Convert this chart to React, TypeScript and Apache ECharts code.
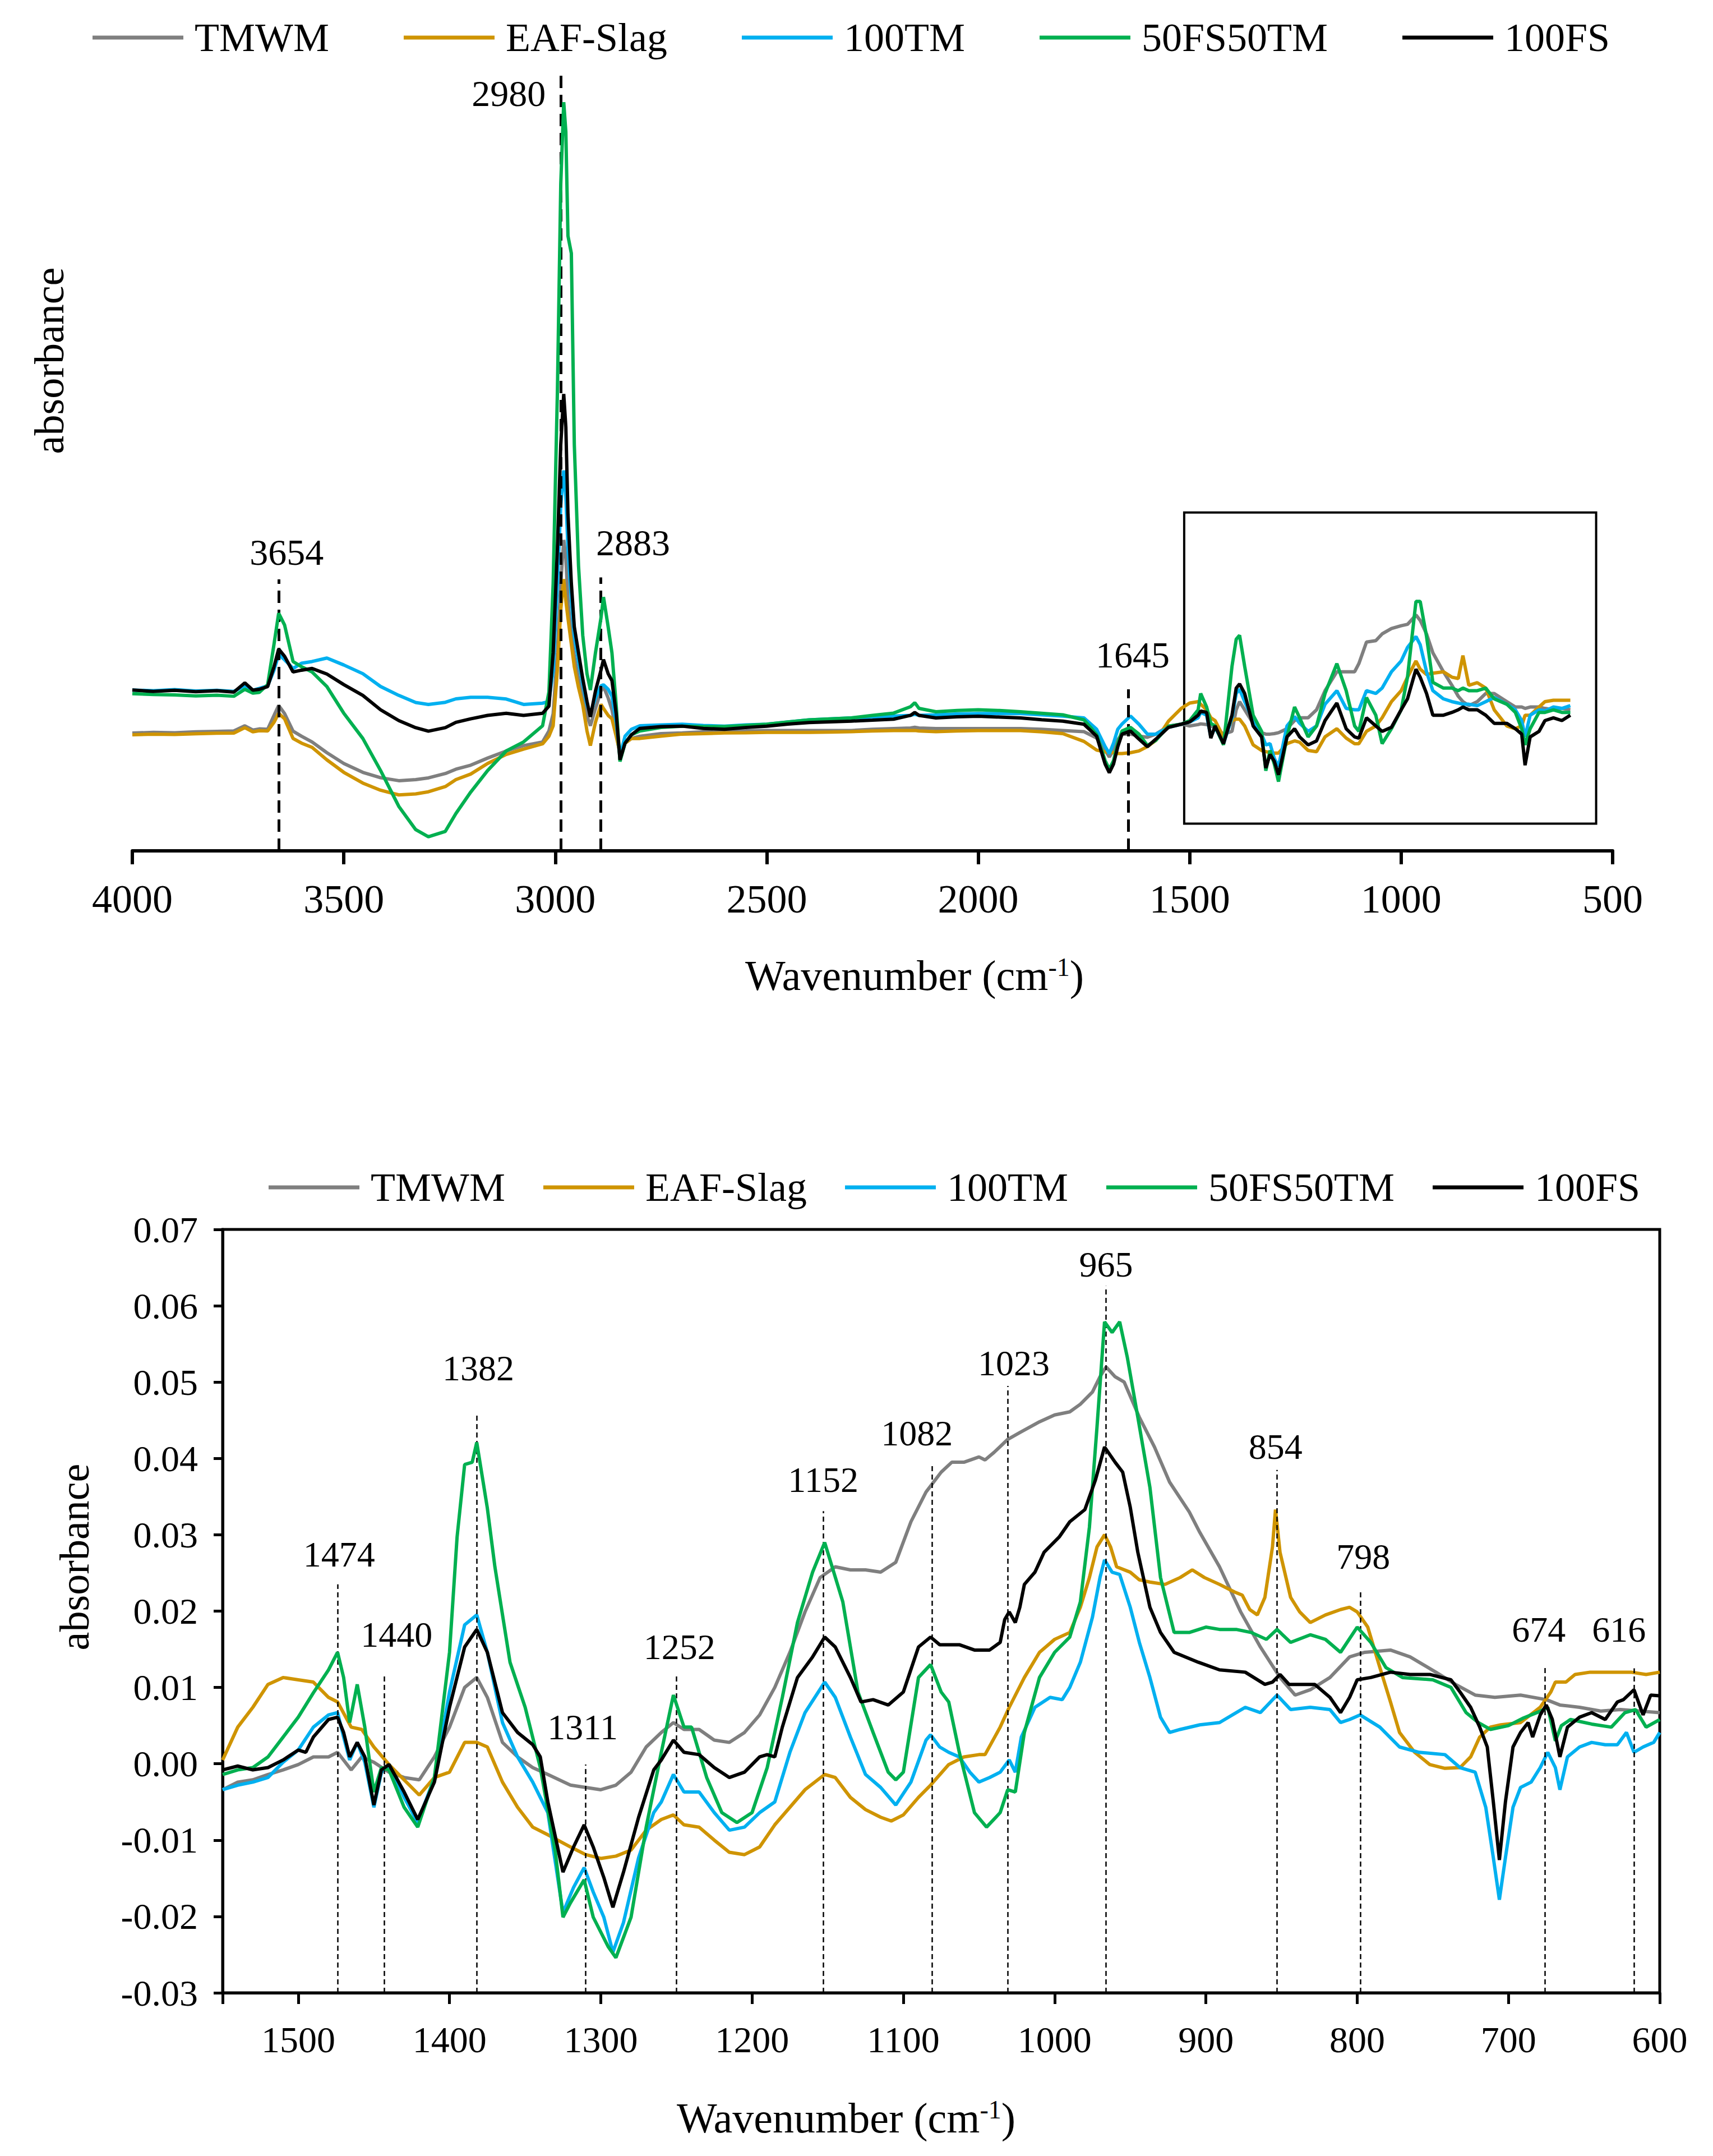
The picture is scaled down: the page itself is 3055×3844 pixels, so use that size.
import React, { useEffect, useRef } from 'react';
import * as echarts from 'echarts';

const FONT = 'Liberation Serif';

const seriesNames = ['TMWM', 'EAF-Slag', '100TM', '50FS50TM', '100FS'];
const seriesColors = ['#7F7F7F', '#CF9400', '#00B0F0', '#00B050', '#000000'];

// ---- full spectrum (upper panel), wavenumber grid shared by all samples ----
const topWn = [
  4000, 3950, 3900, 3850, 3800, 3760, 3734, 3715, 3700, 3680,
  3665, 3654, 3640, 3620, 3600, 3575, 3540, 3500, 3455, 3413,
  3370, 3330, 3300, 3260, 3235, 3200, 3160, 3116, 3075, 3030,
  3015, 3005, 2995, 2987, 2980, 2975, 2970, 2962, 2955, 2945,
  2935, 2925, 2917, 2905, 2892, 2886, 2875, 2866, 2856, 2847,
  2835, 2820, 2800, 2750, 2700, 2650, 2600, 2550, 2500, 2450,
  2400, 2350, 2300, 2250, 2200, 2160, 2150, 2140, 2100, 2050,
  2000, 1950, 1900, 1850, 1800, 1750, 1720, 1700, 1690, 1680,
  1670, 1660, 1640, 1620, 1600, 1580, 1550, 1520, 1500, 1480,
  1474, 1460, 1450, 1440, 1420, 1400, 1390, 1382, 1370, 1350,
  1330, 1320, 1310, 1300, 1290, 1270, 1252, 1240, 1220, 1200,
  1180, 1152, 1130, 1110, 1100, 1082, 1060, 1045, 1023, 1000,
  985, 965, 955, 940, 925, 900, 880, 865, 854, 840,
  820, 800, 780, 750, 730, 715, 707, 695, 674, 660,
  640, 620, 600,
];

const topTMWM = [
  -0.0162, -0.0158, -0.016, -0.0155, -0.0152, -0.015, -0.012, -0.0145, -0.0138, -0.014,
  -0.006, -0.0003, -0.005, -0.0151, -0.018, -0.0213, -0.0275, -0.0337, -0.0388, -0.0419,
  -0.0436, -0.043, -0.042, -0.0395, -0.037, -0.0347, -0.0306, -0.0265, -0.0234, -0.0213,
  -0.015, -0.005, 0.03, 0.07, 0.095, 0.085, 0.06, 0.04, 0.028, 0.015,
  0.005, -0.006, -0.012, -0.002, 0.008, 0.0106, 0.004, -0.0028, -0.015, -0.0295,
  -0.022, -0.0193, -0.018, -0.0165, -0.0161, -0.0155, -0.015, -0.0149, -0.0147, -0.0147,
  -0.0147, -0.0147, -0.0147, -0.014, -0.0136, -0.0133, -0.0129, -0.0133, -0.0136, -0.0136,
  -0.0136, -0.0136, -0.0136, -0.014, -0.0147, -0.0154, -0.019, -0.026, -0.03, -0.026,
  -0.02, -0.0168, -0.0168, -0.0179, -0.0186, -0.0168, -0.0122, -0.011, -0.0121, -0.0113,
  -0.0109, -0.0113, -0.0121, -0.0129, -0.0168, -0.0152, -0.0028, 0.0019, -0.0028, -0.0106,
  -0.016, -0.0168, -0.0168, -0.0165, -0.016, -0.0137, -0.009, -0.0074, -0.0074, -0.0028,
  0.0082, 0.0191, 0.0191, 0.0191, 0.0238, 0.0362, 0.037, 0.0409, 0.044, 0.0456,
  0.0464, 0.0518, 0.0487, 0.0409, 0.03, 0.0191, 0.0113, 0.005, 0.0019, -0.0004,
  0.0019, 0.0066, 0.0066, 0.0019, -0.0012, -0.0012, -0.002, -0.0012, -0.0012, -0.002,
  -0.0028, -0.002, -0.0028,
];

const topEAF = [
  -0.0172, -0.0168, -0.017, -0.0166, -0.0163, -0.0162, -0.0131, -0.0155, -0.0148, -0.015,
  -0.01, -0.0048, -0.008, -0.0193, -0.022, -0.0244, -0.0316, -0.0388, -0.045, -0.0491,
  -0.0518, -0.0512, -0.05, -0.047, -0.043, -0.0398, -0.0337, -0.0285, -0.0254, -0.0224,
  -0.018, -0.012, 0.02, 0.055, 0.0724, 0.06, 0.05, 0.035, 0.022, 0.01,
  0, -0.015, -0.0234, -0.01, 0.0003, -0.002, -0.006, -0.008, -0.018, -0.0275,
  -0.022, -0.0193, -0.0193, -0.018, -0.0168, -0.0165, -0.0161, -0.016, -0.0158, -0.0158,
  -0.0158, -0.0156, -0.0154, -0.015, -0.0147, -0.0147, -0.0147, -0.015, -0.0154, -0.015,
  -0.0147, -0.0147, -0.0147, -0.0155, -0.0165, -0.021, -0.026, -0.027, -0.027, -0.0275,
  -0.028, -0.028, -0.0275, -0.0265, -0.024, -0.0204, -0.0093, -0.002, 0.0011, 0.0019,
  0.0004, -0.0028, -0.0074, -0.009, -0.0184, -0.009, -0.0082, -0.0082, -0.0121, -0.023,
  -0.0262, -0.0269, -0.0274, -0.0277, -0.0277, -0.0223, -0.0207, -0.0215, -0.0262, -0.0269,
  -0.0184, -0.0137, -0.0191, -0.0223, -0.0223, -0.0152, -0.0121, -0.0074, 0.0019, 0.0082,
  0.016, 0.0253, 0.0206, 0.0175, 0.0183, 0.0191, 0.016, 0.0152, 0.0284, 0.0113,
  0.0128, 0.0097, -0.0028, -0.0121, -0.0137, -0.0121, -0.0059, -0.0059, -0.0012, 0.0019,
  0.0027, 0.0027, 0.0027,
];

const top100TM = [
  0.0086, 0.0082, 0.0088, 0.008, 0.0084, 0.0078, 0.011, 0.0085, 0.0095, 0.011,
  0.02, 0.029, 0.026, 0.021, 0.024, 0.025, 0.027, 0.023, 0.018, 0.0106,
  0.0055, 0.0014, 0.0003, 0.0015, 0.0035, 0.0044, 0.0044, 0.0034, 0.0003, 0.001,
  0.002, 0.02, 0.07, 0.115, 0.135, 0.12, 0.09, 0.06, 0.04, 0.025,
  0.012, 0, -0.0048, 0.004, 0.011, 0.0116, 0.009, 0.005, -0.01, -0.0295,
  -0.018, -0.014, -0.012, -0.0115, -0.0111, -0.0118, -0.0122, -0.0115, -0.0111, -0.0098,
  -0.0086, -0.008, -0.0075, -0.007, -0.0064, -0.006, -0.0054, -0.006, -0.0057, -0.0052,
  -0.005, -0.005, -0.005, -0.0057, -0.0064, -0.0075, -0.014, -0.024, -0.028, -0.022,
  -0.014, -0.011, -0.0064, -0.0111, -0.0168, -0.0168, -0.0129, -0.0111, -0.0098, -0.0074,
  -0.0043, -0.0059, -0.0184, -0.0129, -0.0223, -0.0074, 0.0066, 0.009, 0.0019, -0.009,
  -0.0168, -0.023, -0.0223, -0.0308, -0.0355, -0.0121, -0.0067, -0.0106, -0.0152, -0.0121,
  0.0004, 0.0082, -0.002, -0.0028, -0.0028, 0.0082, 0.0066, 0.0097, 0.0191, 0.0253,
  0.0331, 0.0394, 0.0347, 0.0191, 0.0082, 0.0035, 0.0019, 0.0011, 0.0004, 0.0004,
  -0.0004, 0.0019, 0.0043, 0.0004, -0.0028, -0.009, -0.0184, -0.0059, -0.0028, -0.0035,
  -0.0012, -0.002, -0.0004,
];

const top50FS = [
  0.0065, 0.006, 0.0058, 0.0052, 0.0056, 0.005, 0.009, 0.0068, 0.0072, 0.0117,
  0.035, 0.0528, 0.046, 0.025, 0.022, 0.019, 0.0106, -0.0048, -0.0193, -0.0378,
  -0.0584, -0.0718, -0.0759, -0.0728, -0.0625, -0.0502, -0.0378, -0.0265, -0.0213, -0.012,
  0.0075, 0.07, 0.18, 0.3, 0.347, 0.33, 0.27, 0.26, 0.15, 0.08,
  0.04, 0.018, 0.0086, 0.03, 0.05, 0.0621, 0.045, 0.03, 0, -0.0326,
  -0.022, -0.0172, -0.015, -0.013, -0.0122, -0.0125, -0.0125, -0.0118, -0.0111, -0.0098,
  -0.0086, -0.008, -0.0075, -0.006, -0.0047, -0.001, 0.0013, -0.002, -0.0039, -0.0032,
  -0.0028, -0.0032, -0.0039, -0.0048, -0.0057, -0.0086, -0.017, -0.032, -0.037, -0.032,
  -0.022, -0.015, -0.0129, -0.0168, -0.0233, -0.0204, -0.0122, -0.0111, -0.009, -0.0028,
  0.0066, -0.0012, -0.0106, -0.0121, -0.023, 0.0222, 0.0378, 0.0401, 0.0222, -0.0059,
  -0.0152, -0.0379, -0.0262, -0.034, -0.0441, -0.0184, -0.0012, -0.0074, -0.0184, -0.0121,
  0.0066, 0.0238, 0.0082, -0.0121, -0.0152, 0.0043, -0.0059, -0.0223, -0.0137, -0.0028,
  0.016, 0.0596, 0.0596, 0.0394, 0.013, 0.0097, 0.0097, 0.0082, 0.0097, 0.0082,
  0.0082, 0.0097, 0.0035, 0.0004, -0.0043, -0.0137, -0.023, -0.0137, -0.0043, -0.0043,
  -0.0028, -0.0043, -0.0043,
];

const top100FS = [
  0.0086, 0.0078, 0.0084, 0.0076, 0.0082, 0.0074, 0.0127, 0.0085, 0.009, 0.0106,
  0.022, 0.0322, 0.028, 0.019, 0.02, 0.021, 0.0178, 0.0117, 0.0055, -0.0028,
  -0.009, -0.0131, -0.0151, -0.0131, -0.01, -0.008, -0.006, -0.0048, -0.006, -0.0048,
  -0.0007, 0.03, 0.09, 0.15, 0.179, 0.16, 0.11, 0.07, 0.045, 0.03,
  0.015, 0.002, -0.0069, 0.008, 0.02, 0.0261, 0.018, 0.014, -0.005, -0.0316,
  -0.022, -0.0172, -0.0135, -0.0125, -0.0122, -0.0135, -0.014, -0.013, -0.0122, -0.011,
  -0.0101, -0.0097, -0.0093, -0.0088, -0.0082, -0.006, -0.0043, -0.006, -0.0075, -0.0068,
  -0.0065, -0.007, -0.0075, -0.0085, -0.0093, -0.0111, -0.018, -0.034, -0.039, -0.034,
  -0.024, -0.0168, -0.015, -0.0197, -0.024, -0.0197, -0.0129, -0.0111, -0.0098, -0.0059,
  -0.0035, -0.0043, -0.0191, -0.0121, -0.0223, -0.0059, 0.0097, 0.0121, 0.0066, -0.0121,
  -0.0184, -0.0363, -0.0285, -0.0324, -0.0402, -0.0184, -0.0137, -0.0184, -0.023, -0.0207,
  -0.009, 0.0011, -0.0137, -0.0184, -0.0191, -0.0074, -0.0121, -0.0152, -0.0129, -0.0028,
  0.0035, 0.0206, 0.016, 0.0066, -0.0059, -0.0059, -0.0043, -0.0028, -0.0012, -0.0028,
  -0.0028, -0.0059, -0.0106, -0.0106, -0.0137, -0.0168, -0.0347, -0.0184, -0.0152, -0.009,
  -0.0074, -0.009, -0.0059,
];

// ---- fingerprint region (lower panel), [wavenumber, absorbance] ----
const fpTMWM = [
  [1550, -0.0034], [1540, -0.0024], [1530, -0.0021], [1520, -0.0014], [1510, -0.0008], [1500, -0.0001],
  [1490, 0.0009], [1480, 0.0009], [1474, 0.0015], [1465, -0.0008], [1458, 0.0009], [1450, 0.0002],
  [1440, -0.0011], [1430, -0.0018], [1420, -0.0021], [1410, 0.0009], [1400, 0.0048], [1390, 0.01],
  [1382, 0.0113], [1375, 0.0087], [1365, 0.0028], [1355, 0.0009], [1345, -0.0005], [1335, -0.0014],
  [1320, -0.0028], [1300, -0.0034], [1290, -0.0028], [1280, -0.0011], [1270, 0.0022], [1260, 0.0041],
  [1252, 0.0054], [1245, 0.0045], [1235, 0.0045], [1225, 0.0031], [1215, 0.0028], [1205, 0.0041],
  [1195, 0.0064], [1185, 0.01], [1175, 0.0146], [1165, 0.0199], [1155, 0.0244], [1145, 0.0258],
  [1135, 0.0254], [1125, 0.0254], [1115, 0.0251], [1105, 0.0264], [1095, 0.0317], [1085, 0.0356],
  [1075, 0.0382], [1068, 0.0395], [1060, 0.0395], [1050, 0.0402], [1046, 0.0398], [1040, 0.0408],
  [1031, 0.0425], [1023, 0.0434], [1010, 0.0448], [1000, 0.0457], [990, 0.0461], [983, 0.0471],
  [975, 0.0487], [970, 0.0507], [966, 0.052], [960, 0.0507], [954, 0.05], [944, 0.0454],
  [934, 0.0415], [924, 0.0369], [911, 0.033], [904, 0.0303], [891, 0.0258], [877, 0.0199],
  [864, 0.0153], [851, 0.0113], [841, 0.009], [831, 0.0097], [818, 0.0113], [805, 0.014],
  [795, 0.0146], [778, 0.0149], [765, 0.014], [748, 0.012], [735, 0.0104], [722, 0.009],
  [709, 0.0087], [692, 0.009], [675, 0.0084], [666, 0.0077], [653, 0.0074], [639, 0.0069],
  [626, 0.0071], [613, 0.0069], [600, 0.0067],
];

const fpEAF = [
  [1550, 0.0005], [1540, 0.0048], [1530, 0.0074], [1520, 0.0104], [1510, 0.0113], [1500, 0.011],
  [1490, 0.0107], [1480, 0.0087], [1474, 0.0081], [1465, 0.0048], [1458, 0.0045], [1450, 0.0022],
  [1440, -0.0001], [1430, -0.0021], [1420, -0.0041], [1410, -0.0018], [1400, -0.0011], [1390, 0.0028],
  [1382, 0.0028], [1375, 0.0022], [1365, -0.0024], [1355, -0.0057], [1345, -0.0083], [1335, -0.0093],
  [1320, -0.0109], [1310, -0.0119], [1300, -0.0124], [1290, -0.0121], [1280, -0.0113], [1270, -0.0087],
  [1260, -0.0073], [1252, -0.0067], [1245, -0.008], [1235, -0.0083], [1225, -0.01], [1215, -0.0116],
  [1205, -0.0119], [1195, -0.0109], [1185, -0.008], [1175, -0.0057], [1165, -0.0034], [1152, -0.0014],
  [1145, -0.0018], [1135, -0.0044], [1125, -0.006], [1115, -0.007], [1108, -0.0075], [1100, -0.0067],
  [1090, -0.0044], [1082, -0.0028], [1070, -0.0001], [1060, 0.0009], [1050, 0.0012], [1046, 0.0012],
  [1036, 0.0048], [1030, 0.0074], [1020, 0.0113], [1010, 0.0146], [1000, 0.0163], [990, 0.0172],
  [983, 0.0205], [977, 0.0244], [972, 0.0284], [967, 0.03], [963, 0.0284], [959, 0.0258],
  [950, 0.0251], [944, 0.0241], [937, 0.0238], [927, 0.0235], [917, 0.0244], [909, 0.0254],
  [901, 0.0244], [891, 0.0235], [881, 0.0225], [876, 0.0221], [871, 0.0202], [866, 0.0195],
  [861, 0.0218], [856, 0.0284], [854, 0.0333], [851, 0.0277], [844, 0.0218], [838, 0.0199],
  [831, 0.0185], [821, 0.0195], [811, 0.0202], [805, 0.0205], [800, 0.0199], [793, 0.0179],
  [785, 0.0126], [778, 0.0081], [772, 0.0041], [762, 0.0015], [752, -0.0001], [742, -0.0006],
  [732, -0.0005], [725, 0.0009], [719, 0.0035], [712, 0.0048], [705, 0.0051], [692, 0.0054],
  [679, 0.0074], [672, 0.0094], [669, 0.0107], [662, 0.0107], [656, 0.0117], [646, 0.012],
  [632, 0.012], [619, 0.012], [609, 0.0117], [600, 0.012],
];

const fp100TM = [
  [1550, -0.0034], [1540, -0.0028], [1530, -0.0024], [1520, -0.0018], [1510, 0.0002], [1500, 0.0018],
  [1490, 0.0048], [1480, 0.0064], [1474, 0.0067], [1470, 0.0035], [1466, 0.0005], [1461, 0.0028],
  [1456, 0.0002], [1450, -0.0057], [1445, -0.0011], [1440, -0.0001], [1430, -0.0044], [1421, -0.0077],
  [1410, -0.0018], [1400, 0.0094], [1390, 0.0182], [1382, 0.0195], [1375, 0.0146], [1365, 0.0054],
  [1355, 0.0009], [1345, -0.0024], [1335, -0.0064], [1325, -0.0195], [1318, -0.0162], [1311, -0.0136],
  [1305, -0.0168], [1298, -0.0201], [1292, -0.0247], [1285, -0.0208], [1275, -0.0123], [1265, -0.0064],
  [1260, -0.005], [1252, -0.0014], [1245, -0.0037], [1235, -0.0037], [1225, -0.0064], [1215, -0.0087],
  [1205, -0.0083], [1195, -0.0064], [1185, -0.005], [1175, 0.0015], [1165, 0.0067], [1152, 0.0107],
  [1145, 0.0087], [1135, 0.0035], [1125, -0.0014], [1115, -0.0031], [1105, -0.0054], [1095, -0.0024],
  [1085, 0.0031], [1082, 0.0038], [1076, 0.0022], [1070, 0.0015], [1063, 0.0009], [1056, -0.0011],
  [1050, -0.0024], [1043, -0.0018], [1036, -0.0011], [1030, 0.0005], [1026, -0.0011], [1022, 0.0035],
  [1013, 0.0074], [1003, 0.0087], [995, 0.0084], [990, 0.01], [983, 0.0133], [975, 0.0192],
  [970, 0.0244], [967, 0.0267], [962, 0.0251], [957, 0.0248], [950, 0.0205], [944, 0.0159],
  [937, 0.0113], [930, 0.0061], [924, 0.0041], [917, 0.0045], [904, 0.0051], [891, 0.0054],
  [874, 0.0074], [864, 0.0067], [853, 0.009], [844, 0.0071], [831, 0.0074], [818, 0.0071],
  [811, 0.0054], [805, 0.0058], [798, 0.0064], [785, 0.0048], [772, 0.0022], [759, 0.0015],
  [742, 0.0012], [732, -0.0005], [722, -0.0011], [715, -0.0057], [710, -0.0123], [706, -0.0178],
  [702, -0.0123], [697, -0.0057], [692, -0.0031], [685, -0.0024], [679, -0.0005], [674, 0.0015],
  [669, -0.0005], [666, -0.0034], [661, 0.0009], [653, 0.0022], [645, 0.0028], [636, 0.0025],
  [628, 0.0025], [622, 0.0041], [617, 0.0015], [611, 0.0022], [604, 0.0028], [600, 0.0041],
];

const fp50FS = [
  [1550, -0.0014], [1540, -0.0008], [1530, -0.0005], [1520, 0.0009], [1510, 0.0035], [1500, 0.0061],
  [1490, 0.0093], [1480, 0.0123], [1474, 0.0146], [1470, 0.0113], [1466, 0.0054], [1461, 0.0104],
  [1456, 0.0048], [1450, -0.0037], [1445, -0.0005], [1440, -0.0008], [1430, -0.0057], [1421, -0.0083],
  [1410, -0.0018], [1400, 0.0146], [1395, 0.0297], [1390, 0.0392], [1385, 0.0395], [1382, 0.0421],
  [1375, 0.0335], [1370, 0.0258], [1360, 0.0133], [1350, 0.0074], [1340, -0.0005], [1330, -0.0116],
  [1325, -0.0201], [1320, -0.0182], [1311, -0.0152], [1305, -0.0201], [1295, -0.024], [1290, -0.0254],
  [1280, -0.0201], [1270, -0.0083], [1260, 0.0015], [1252, 0.009], [1245, 0.0048], [1240, 0.0048],
  [1230, -0.0018], [1220, -0.0064], [1210, -0.0077], [1200, -0.0064], [1190, -0.0005], [1180, 0.0087],
  [1170, 0.0185], [1160, 0.0251], [1152, 0.029], [1140, 0.0212], [1130, 0.0094], [1120, 0.0041],
  [1110, -0.0011], [1105, -0.0021], [1100, -0.0011], [1090, 0.0113], [1082, 0.013], [1075, 0.0094],
  [1070, 0.0081], [1063, 0.0015], [1053, -0.0064], [1045, -0.0083], [1036, -0.0064], [1031, -0.0034],
  [1026, -0.0037], [1020, 0.0041], [1010, 0.0113], [1000, 0.0146], [990, 0.0166], [983, 0.0212],
  [977, 0.031], [972, 0.0441], [967, 0.0579], [962, 0.0565], [957, 0.0579], [952, 0.0533],
  [945, 0.0454], [937, 0.0362], [930, 0.0244], [921, 0.0172], [911, 0.0172], [900, 0.0179],
  [891, 0.0176], [880, 0.0176], [870, 0.0172], [860, 0.0163], [853, 0.0176], [844, 0.0159],
  [831, 0.0169], [821, 0.0163], [811, 0.0146], [800, 0.0179], [791, 0.0159], [781, 0.0126],
  [770, 0.0113], [750, 0.011], [738, 0.01], [728, 0.0067], [720, 0.0054], [712, 0.0045],
  [700, 0.005], [690, 0.006], [680, 0.0068], [674, 0.0074], [669, 0.003], [665, 0.005],
  [659, 0.0058], [645, 0.0052], [632, 0.0048], [623, 0.0067], [616, 0.0071], [609, 0.0048],
  [600, 0.0058],
];

const fp100FS = [
  [1550, -0.0008], [1540, -0.0003], [1530, -0.0008], [1520, -0.0005], [1510, 0.0005], [1500, 0.0018],
  [1495, 0.0015], [1490, 0.0035], [1480, 0.0058], [1474, 0.0061], [1470, 0.0041], [1466, 0.0009],
  [1461, 0.0028], [1456, 0.0009], [1450, -0.0054], [1445, -0.0008], [1440, -0.0001], [1430, -0.0037],
  [1421, -0.0073], [1410, -0.0024], [1400, 0.0074], [1390, 0.0153], [1382, 0.0176], [1375, 0.0146],
  [1365, 0.0067], [1355, 0.0041], [1345, 0.0025], [1340, 0.0009], [1335, -0.005], [1325, -0.0142],
  [1318, -0.0109], [1311, -0.008], [1305, -0.0109], [1298, -0.0149], [1292, -0.0188], [1285, -0.0142],
  [1275, -0.007], [1265, -0.0008], [1260, 0.0005], [1252, 0.0031], [1245, 0.0015], [1235, 0.0012],
  [1225, -0.0005], [1215, -0.0018], [1205, -0.0011], [1195, 0.0009], [1190, 0.0012], [1185, 0.0009],
  [1180, 0.0048], [1170, 0.0113], [1160, 0.014], [1152, 0.0166], [1145, 0.0153], [1135, 0.0113],
  [1128, 0.0081], [1120, 0.0084], [1110, 0.0077], [1100, 0.0094], [1090, 0.0153], [1082, 0.0166],
  [1076, 0.0156], [1063, 0.0156], [1053, 0.0149], [1043, 0.0149], [1036, 0.0159], [1033, 0.0189],
  [1030, 0.0199], [1026, 0.0185], [1023, 0.0205], [1020, 0.0235], [1013, 0.0251], [1007, 0.0277],
  [997, 0.0297], [990, 0.0317], [980, 0.0333], [973, 0.0372], [967, 0.0415], [960, 0.0395],
  [955, 0.0382], [950, 0.0336], [945, 0.0277], [937, 0.0205], [930, 0.0172], [921, 0.0146],
  [905, 0.0133], [891, 0.0123], [874, 0.012], [861, 0.0104], [856, 0.0107], [851, 0.0117],
  [845, 0.0104], [828, 0.0104], [818, 0.0087], [811, 0.0067], [805, 0.0087], [800, 0.011],
  [791, 0.0113], [778, 0.012], [765, 0.0117], [752, 0.0117], [738, 0.011], [732, 0.0094],
  [725, 0.0074], [719, 0.0048], [714, 0.0022], [710, -0.005], [706, -0.0126], [702, -0.005],
  [697, 0.0022], [692, 0.0041], [687, 0.0054], [684, 0.0035], [679, 0.0064], [675, 0.0077],
  [671, 0.0058], [666, 0.0009], [661, 0.0048], [653, 0.0061], [645, 0.0067], [636, 0.0058],
  [628, 0.0081], [624, 0.0084], [617, 0.0097], [611, 0.0064], [606, 0.009], [600, 0.0089],
];

// ---- peak annotations ----
const topPeakLabels = ['3654', '2980', '2883', '1645'];
const topPeakLineX = [3654, 2987, 2892, 1645];
const topPeakLineTop = [0.0723, 0.366, 0.0734, 0.009];
const topPeakLabelX = [3635, 3110, 2816, 1635];
const topPeakLabelY = [0.0878, 0.352, 0.0933, 0.0287];
const topZoomBox = [[1513, 0.1108], [539, -0.0683]];

const fpPeakLabels = ['1474', '1440', '1382', '1311', '1252', '1152', '1082', '1023', '965', '854', '798', '674', '616'];
const fpPeakLineX = [1474, 1443, 1382, 1310, 1250, 1153, 1081, 1031, 966, 853, 798, 676, 617];
const fpPeakLineTop = [0.0235, 0.0117, 0.0459, -0.0001, 0.0118, 0.0331, 0.0392, 0.0495, 0.0626, 0.0385, 0.0226, 0.0128, 0.0125];
const fpPeakLabelX = [1473, 1435, 1381, 1312, 1248, 1153, 1091, 1027, 966, 854, 796, 680, 627];
const fpPeakLabelY = [0.0274, 0.0169, 0.0518, 0.0048, 0.0153, 0.0372, 0.0433, 0.0525, 0.0654, 0.0415, 0.0271, 0.0176, 0.0176];

const TOP_YMIN = -0.084;
const TOP_YMAX = 0.37;
const FP_YMIN = -0.03;
const FP_YMAX = 0.07;

export default function App() {
  const chartRef = useRef<HTMLDivElement>(null);

  useEffect(() => {
    if (!chartRef.current) return;
    const chart = echarts.init(chartRef.current, null, { renderer: 'svg' });

    const topValues = [topTMWM, topEAF, top100TM, top50FS, top100FS];
    const fpValues = [fpTMWM, fpEAF, fp100TM, fp50FS, fp100FS];

    const series: any[] = [];
    topValues.forEach((vals, i) => {
      series.push({
        name: seriesNames[i],
        type: 'line',
        xAxisIndex: 0,
        yAxisIndex: 0,
        data: topWn.map((w, j) => [w, vals[j]]),
        symbol: 'none',
        showSymbol: false,
        lineStyle: { color: seriesColors[i], width: 6 },
        itemStyle: { color: seriesColors[i] },
        z: 2 + i,
      });
    });
    fpValues.forEach((vals, i) => {
      series.push({
        name: seriesNames[i],
        type: 'line',
        xAxisIndex: 1,
        yAxisIndex: 1,
        data: vals,
        symbol: 'none',
        showSymbol: false,
        lineStyle: { color: seriesColors[i], width: 6 },
        itemStyle: { color: seriesColors[i] },
        z: 2 + i,
      });
    });

    const labelStyle = (size: number) => ({
      show: true,
      position: 'inside',
      color: '#000',
      fontFamily: FONT,
      fontSize: size,
      formatter: (p: any) => p.name,
    });

    // upper panel markers
    series[4].markLine = {
      silent: true,
      symbol: ['none', 'none'],
      label: { show: false },
      lineStyle: { color: '#000', width: 5, type: [22, 12] },
      data: topPeakLineX.map((x, i) => [{ coord: [x, TOP_YMIN] }, { coord: [x, topPeakLineTop[i]] }]),
    };
    series[4].markPoint = {
      silent: true,
      symbol: 'rect',
      symbolSize: 1,
      itemStyle: { color: 'rgba(0,0,0,0)' },
      label: labelStyle(66),
      data: topPeakLabels.map((t, i) => ({ name: t, coord: [topPeakLabelX[i], topPeakLabelY[i]] })),
    };
    series[0].markArea = {
      silent: true,
      itemStyle: { color: 'rgba(0,0,0,0)', borderColor: '#000', borderWidth: 4 },
      label: { show: false },
      data: [[{ coord: topZoomBox[0] }, { coord: topZoomBox[1] }]],
    };

    // lower panel markers
    series[9].markLine = {
      silent: true,
      symbol: ['none', 'none'],
      label: { show: false },
      lineStyle: { color: '#000', width: 2.5, type: [9, 6] },
      data: fpPeakLineX.map((x, i) => [{ coord: [x, FP_YMIN] }, { coord: [x, fpPeakLineTop[i]] }]),
    };
    series[9].markPoint = {
      silent: true,
      symbol: 'rect',
      symbolSize: 1,
      itemStyle: { color: 'rgba(0,0,0,0)' },
      label: labelStyle(64),
      data: fpPeakLabels.map((t, i) => ({ name: t, coord: [fpPeakLabelX[i], fpPeakLabelY[i]] })),
    };

    const legendCommon = {
      data: seriesNames,
      icon: 'rect',
      itemWidth: 162,
      itemHeight: 7,
      selectedMode: false,
      orient: 'horizontal',
      textStyle: { fontFamily: FONT, fontSize: 72, color: '#000', lineHeight: 80, padding: [0, 0, 0, 15] },
    };

    const axisText = { fontFamily: FONT, color: '#000' };

    const wavenumberName = (x: number, y: number) => ({
      type: 'text',
      x,
      y,
      style: {
        text: '{a|Wavenumber (cm}{s|-1}{a|)}',
        rich: {
          a: { fontFamily: FONT, fontSize: 76, fill: '#000' },
          s: { fontFamily: FONT, fontSize: 46, fill: '#000', verticalAlign: 'top' },
        },
        align: 'center',
        verticalAlign: 'middle',
      },
    });
    const absorbanceName = (x: number, y: number) => ({
      type: 'text',
      x,
      y,
      rotation: Math.PI / 2,
      style: {
        text: 'absorbance',
        fontFamily: FONT,
        fontSize: 74,
        fill: '#000',
        align: 'center',
        verticalAlign: 'middle',
      },
    });

    const option = {
      animation: false,
      backgroundColor: '#fff',
      legend: [
        { ...legendCommon, left: 160, top: 22, width: 2880, itemGap: 133 },
        { ...legendCommon, left: 474, top: 2072, width: 2560, itemGap: 68 },
      ],
      grid: [
        { left: 236, right: 179, top: 111, bottom: 2327 },
        { left: 397, right: 95, top: 2192, bottom: 291, show: true, borderColor: '#000', borderWidth: 5 },
      ],
      xAxis: [
        {
          gridIndex: 0,
          type: 'value',
          min: 500,
          max: 4000,
          interval: 500,
          inverse: true,
          splitLine: { show: false },
          axisLine: { show: true, onZero: false, lineStyle: { color: '#000', width: 6 } },
          axisTick: { show: true, inside: false, length: 24, lineStyle: { color: '#000', width: 6 } },
          axisLabel: { ...axisText, fontSize: 72, margin: 50, formatter: (v: number) => String(v) },
        },
        {
          gridIndex: 1,
          type: 'value',
          min: 600,
          max: 1550,
          interval: 100,
          inverse: true,
          splitLine: { show: false },
          axisLine: { show: true, onZero: false, lineStyle: { color: '#000', width: 5 } },
          axisTick: { show: true, inside: false, length: 20, lineStyle: { color: '#000', width: 5 } },
          axisLabel: {
            ...axisText,
            fontSize: 66,
            margin: 50,
            formatter: (v: number) => (v > 1500 ? '' : String(v)),
          },
        },
      ],
      yAxis: [
        {
          gridIndex: 0,
          type: 'value',
          min: TOP_YMIN,
          max: TOP_YMAX,
          show: false,
        },
        {
          gridIndex: 1,
          type: 'value',
          min: FP_YMIN,
          max: FP_YMAX,
          interval: 0.01,
          splitLine: { show: false },
          axisLine: { show: true, onZero: false, lineStyle: { color: '#000', width: 5 } },
          axisTick: { show: true, inside: false, length: 16, lineStyle: { color: '#000', width: 5 } },
          axisLabel: {
            ...axisText,
            fontSize: 66,
            margin: 44,
            formatter: (v: number) => (Math.abs(v) < 1e-9 ? '0.00' : v.toFixed(2)),
          },
        },
      ],
      graphic: [
        absorbanceName(88, 643),
        wavenumberName(1631, 1739),
        absorbanceName(133, 2776),
        wavenumberName(1509, 3776),
      ],
      series,
    };

    chart.setOption(option);

    return () => {
      chart.dispose();
    };
  }, []);

  return (
    <div
      ref={chartRef}
      style={{ position: 'absolute', left: 0, top: 0, width: 3055, height: 3844, background: '#fff' }}
    />
  );
}
